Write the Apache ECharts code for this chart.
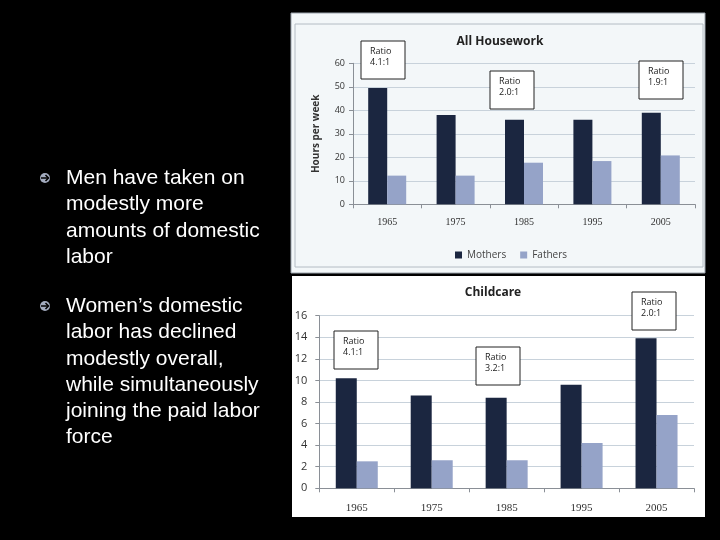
<!DOCTYPE html>
<html>
<head>
<meta charset="utf-8">
<script src="https://cdn.jsdelivr.net/npm/echarts@6/dist/echarts.min.js"></script>
<style>
  html, body { margin: 0; padding: 0; background: #000; }
  #chart { width: 720px; height: 540px; }
</style>
</head>
<body>
<div id="chart"></div>
<script>
// data
var years = ["1965", "1975", "1985", "1995", "2005"];
var houseMothers = [49.5, 38, 36, 36, 39];
var houseFathers = [12.2, 12.2, 17.7, 18.4, 20.8];
var careMothers = [10.2, 8.6, 8.4, 9.6, 13.9];
var careFathers = [2.5, 2.6, 2.6, 4.2, 6.8];
var houseTicks = { min: 0, max: 60, interval: 10 };
var careTicks = { min: 0, max: 16, interval: 2 };
var bullets = [
  "Men have taken on\nmodestly more\namounts of domestic\nlabor",
  "Women\u2019s domestic\nlabor has declined\nmodestly overall,\nwhile simultaneously\njoining the paid labor\nforce"
];

var MOTHER = "#1b2640";
var FATHER = "#95a3c8";
var GRID = "#c8d2db";
var AXIS = "#8a8f96";
var chartFont = "Open Sans";
var yearFont = "Liberation Serif";

var chart = echarts.init(document.getElementById("chart"));

// a "Ratio x:1" note box
function ratioBox(x, y, txt) {
  return [
    {
      type: "rect",
      z: 50,
      shape: { x: x, y: y, width: 44, height: 38 },
      style: { fill: "#fff", stroke: "#222", lineWidth: 1 }
    },
    {
      type: "text",
      z: 51,
      x: x + 9,
      y: y + 5,
      style: {
        text: "Ratio\n" + txt,
        font: "9px " + chartFont,
        fill: "#222",
        lineHeight: 11
      }
    }
  ];
}

var graphics = [
  // panels
  { type: "rect", shape: { x: 291, y: 13, width: 414, height: 260 }, style: { fill: "#f3f7f9", stroke: "#9aa2ab", lineWidth: 1 }, z: -10 },
  { type: "rect", shape: { x: 295, y: 24, width: 408, height: 243 }, style: { fill: "none", stroke: "#b4bcc4", lineWidth: 1 }, z: -9 },
  { type: "rect", shape: { x: 292, y: 276, width: 413, height: 241 }, style: { fill: "#ffffff" }, z: -10 },
  // titles
  { type: "text", x: 500, y: 42, style: { text: "All Housework", font: "bold 12px " + chartFont, fill: "#222", align: "center", verticalAlign: "middle" } },
  { type: "text", x: 493, y: 293, style: { text: "Childcare", font: "bold 12px " + chartFont, fill: "#222", align: "center", verticalAlign: "middle" } }
]
  .concat(ratioBox(361, 41, "4.1:1"))
  .concat(ratioBox(490, 71, "2.0:1"))
  .concat(ratioBox(639, 61, "1.9:1"))
  .concat(ratioBox(334, 331, "4.1:1"))
  .concat(ratioBox(476, 347, "3.2:1"))
  .concat(ratioBox(632, 292, "2.0:1"));

// bullet text on the left
var bulletTops = [165, 293];
bullets.forEach(function (b, i) {
  graphics.push({
    type: "circle",
    shape: { cx: 45, cy: bulletTops[i] + 13, r: 5 },
    style: { fill: "#a3abbe" }
  });
  graphics.push({
    type: "polyline",
    shape: { points: [[41, bulletTops[i] + 13], [48, bulletTops[i] + 13]] },
    style: { stroke: "#000", lineWidth: 1.5 }
  });
  graphics.push({
    type: "polyline",
    shape: { points: [[45.5, bulletTops[i] + 10], [48.5, bulletTops[i] + 13], [45.5, bulletTops[i] + 16]] },
    style: { stroke: "#000", lineWidth: 1.5, fill: "none" }
  });
  graphics.push({
    type: "text",
    x: 66,
    y: bulletTops[i],
    style: {
      text: b,
      font: "21px Liberation Sans",
      fill: "#ffffff",
      lineHeight: 26.3
    }
  });
});

function xAxisFor(gridIndex) {
  return {
    type: "category",
    gridIndex: gridIndex,
    data: years,
    axisLine: { lineStyle: { color: AXIS } },
    axisTick: { show: true, length: 4, lineStyle: { color: AXIS } },
    axisLabel: { color: "#333", fontFamily: yearFont, fontSize: gridIndex === 0 ? 10 : 11, margin: gridIndex === 0 ? 13 : 14 }
  };
}

function yAxisFor(gridIndex, ticks) {
  return {
    type: "value",
    gridIndex: gridIndex,
    min: ticks.min,
    max: ticks.max,
    interval: ticks.interval,
    axisLine: { show: true, lineStyle: { color: AXIS } },
    axisTick: { show: true, length: 4, lineStyle: { color: AXIS } },
    splitLine: { lineStyle: { color: GRID } },
    axisLabel: { color: "#333", fontFamily: chartFont, fontSize: gridIndex === 0 ? 9 : 11, margin: gridIndex === 0 ? 8 : 12 }
  };
}

var option = {
  backgroundColor: "#000",
  animation: false,
  graphic: graphics,
  legend: {
    data: ["Mothers", "Fathers"],
    left: 450,
    top: 245,
    itemWidth: 7,
    itemHeight: 7,
    itemGap: 14,
    icon: "rect",
    textStyle: { color: "#444", fontFamily: chartFont, fontSize: 10 }
  },
  grid: [
    { left: 353, top: 63.3, width: 342, height: 141 },
    { left: 319.3, top: 315.7, width: 374.7, height: 172.6 }
  ],
  xAxis: [xAxisFor(0), xAxisFor(1)],
  yAxis: [
    Object.assign(yAxisFor(0, houseTicks), {
      name: "Hours per week",
      nameLocation: "middle",
      nameGap: 32,
      nameTextStyle: { color: "#333", fontFamily: chartFont, fontWeight: "bold", fontSize: 10 }
    }),
    yAxisFor(1, careTicks)
  ],
  series: [
    { name: "Mothers", type: "bar", xAxisIndex: 0, yAxisIndex: 0, data: houseMothers, barWidth: 19, barGap: "0%", itemStyle: { color: MOTHER } },
    { name: "Fathers", type: "bar", xAxisIndex: 0, yAxisIndex: 0, data: houseFathers, barWidth: 19, barGap: "0%", itemStyle: { color: FATHER } },
    { name: "Mothers", type: "bar", xAxisIndex: 1, yAxisIndex: 1, data: careMothers, barWidth: 21, barGap: "0%", itemStyle: { color: MOTHER } },
    { name: "Fathers", type: "bar", xAxisIndex: 1, yAxisIndex: 1, data: careFathers, barWidth: 21, barGap: "0%", itemStyle: { color: FATHER } }
  ]
};

chart.setOption(option);
</script>
</body>
</html>
